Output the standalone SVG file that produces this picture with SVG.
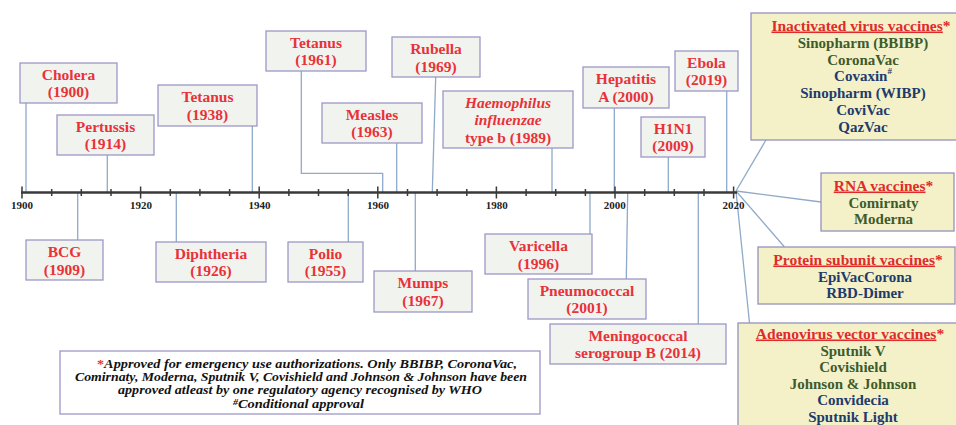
<svg xmlns="http://www.w3.org/2000/svg" width="956" height="425" viewBox="0 0 956 425">
<style>
.bx{fill:#f1f4ee;stroke:#9d97c6;stroke-width:1.3}
.yb{fill:#f4f1c9;stroke:#9492bc;stroke-width:1.3}
.t{font-family:"Liberation Serif",serif;font-weight:bold;font-size:15.5px;fill:#e8323a;text-anchor:middle}
.yr{font-family:"Liberation Serif",serif;font-weight:bold;font-size:11px;fill:#222;text-anchor:middle}
.h{font-family:"Liberation Serif",serif;font-weight:bold;font-size:15.5px;fill:#e02b2b;text-anchor:middle}
.g{font-family:"Liberation Serif",serif;font-weight:bold;font-size:15px;fill:#3e5b2c;text-anchor:middle}
.b{font-family:"Liberation Serif",serif;font-weight:bold;font-size:15px;fill:#1e3b6b;text-anchor:middle}
.n{font-family:"Liberation Serif",serif;font-weight:bold;font-style:italic;font-size:11.5px;fill:#111}
.c{fill:none;stroke:#8fa9c9;stroke-width:1.3}
.ax{stroke:#3a3a3a;stroke-width:2.5}
.tk{stroke:#3a3a3a;stroke-width:1.5}
</style>
<rect width="956" height="425" fill="#fff"/>
<g id="connectors">
<path class="c" d="M26 103V192"/>
<path class="c" d="M107.3 155V192"/>
<path class="c" d="M252.3 126V192"/>
<path class="c" d="M301.3 71V173.3H382.7V192"/>
<path class="c" d="M396.7 143V192"/>
<path class="c" d="M435.7 77L432.3 192"/>
<path class="c" d="M552 148V192"/>
<path class="c" d="M614.3 108V192"/>
<path class="c" d="M668.3 157V192"/>
<path class="c" d="M726.7 91V192"/>
<path class="c" d="M77.7 192V240"/>
<path class="c" d="M176.3 192V242"/>
<path class="c" d="M348.3 192V242"/>
<path class="c" d="M415.3 192V271"/>
<path class="c" d="M590 192V234"/>
<path class="c" d="M627.7 192L626.3 279"/>
<path class="c" d="M698.3 192V324"/>
<path class="c" d="M736 191L766 140"/>
<path class="c" d="M736 191L821 202"/>
<path class="c" d="M736 191L784.3 246.7"/>
<path class="c" d="M736 191L749.5 323"/>
</g>
<g id="axis">
<line class="ax" x1="21" y1="192.5" x2="737" y2="192.5"/>
<path class="tk" d="M22 186.5v12M140.6 186.5v12M259.2 186.5v12M377.8 186.5v12M496.4 186.5v12M615 186.5v12M733.6 186.5v12"/>
<path class="tk" d="M51.7 189v7M81.3 189v7M111 189v7M170.3 189v7M199.9 189v7M229.6 189v7M288.9 189v7M318.5 189v7M348.2 189v7M407.5 189v7M437.1 189v7M466.8 189v7M526.1 189v7M555.7 189v7M585.4 189v7M644.7 189v7M674.3 189v7M704 189v7"/>
<text class="yr" x="22" y="209">1900</text>
<text class="yr" x="141" y="209">1920</text>
<text class="yr" x="259.5" y="209">1940</text>
<text class="yr" x="378" y="209">1960</text>
<text class="yr" x="496.7" y="209">1980</text>
<text class="yr" x="614.7" y="209">2000</text>
<text class="yr" x="733.6" y="209">2020</text>
</g>
<g id="cholera"><rect class="bx" x="20" y="63" width="97" height="40"/><text class="t" x="68.5" y="79.5">Cholera</text><text class="t" x="68.5" y="97">(1900)</text></g>
<g id="pertussis"><rect class="bx" x="57" y="115" width="97" height="40"/><text class="t" x="105.5" y="131.5">Pertussis</text><text class="t" x="105.5" y="149">(1914)</text></g>
<g id="tetanus1938"><rect class="bx" x="158" y="85" width="99" height="41"/><text class="t" x="207.5" y="102">Tetanus</text><text class="t" x="207.5" y="119.5">(1938)</text></g>
<g id="tetanus1961"><rect class="bx" x="266" y="31" width="100" height="40"/><text class="t" x="316" y="47.5">Tetanus</text><text class="t" x="316" y="65">(1961)</text></g>
<g id="measles"><rect class="bx" x="322" y="103" width="100" height="40"/><text class="t" x="372" y="119.5">Measles</text><text class="t" x="372" y="137">(1963)</text></g>
<g id="rubella"><rect class="bx" x="392" y="37" width="88" height="40"/><text class="t" x="436" y="54">Rubella</text><text class="t" x="436" y="71.5">(1969)</text></g>
<g id="hib"><rect class="bx" x="443" y="91" width="130" height="57"/><text class="t" x="508" y="107.5" font-style="italic">Haemophilus</text><text class="t" x="508" y="125" font-style="italic">influenzae</text><text class="t" x="508" y="142.5">type b (1989)</text></g>
<g id="hepatitisA"><rect class="bx" x="583" y="67" width="86" height="41"/><text class="t" x="626" y="84">Hepatitis</text><text class="t" x="626" y="101.5">A (2000)</text></g>
<g id="h1n1"><rect class="bx" x="641" y="117" width="64" height="40"/><text class="t" x="673" y="133.5">H1N1</text><text class="t" x="673" y="151">(2009)</text></g>
<g id="ebola"><rect class="bx" x="675" y="51" width="63" height="40"/><text class="t" x="706.5" y="67.5">Ebola</text><text class="t" x="706.5" y="85">(2019)</text></g>
<g id="bcg"><rect class="bx" x="26" y="240" width="77" height="40"/><text class="t" x="64.5" y="257">BCG</text><text class="t" x="64.5" y="274.5">(1909)</text></g>
<g id="diphtheria"><rect class="bx" x="156" y="242" width="110" height="40"/><text class="t" x="211" y="258.5">Diphtheria</text><text class="t" x="211" y="276">(1926)</text></g>
<g id="polio"><rect class="bx" x="288" y="242" width="75" height="40"/><text class="t" x="325.5" y="258.5">Polio</text><text class="t" x="325.5" y="276">(1955)</text></g>
<g id="mumps"><rect class="bx" x="374" y="271" width="98" height="41"/><text class="t" x="423" y="288">Mumps</text><text class="t" x="423" y="305.5">(1967)</text></g>
<g id="varicella"><rect class="bx" x="485" y="234" width="107" height="40"/><text class="t" x="538.5" y="251">Varicella</text><text class="t" x="538.5" y="268.5">(1996)</text></g>
<g id="pneumococcal"><rect class="bx" x="528" y="279" width="118" height="40"/><text class="t" x="587" y="295.5">Pneumococcal</text><text class="t" x="587" y="313">(2001)</text></g>
<g id="meningococcal"><rect class="bx" x="550" y="324" width="176" height="40"/><text class="t" x="638" y="340.5">Meningococcal</text><text class="t" x="638" y="358">serogroup B (2014)</text></g>
<g id="inactivated"><rect class="yb" x="751" y="13" width="215" height="127"/>
<text class="h" x="861" y="30.5"><tspan text-decoration="underline">Inactivated virus vaccines</tspan>*</text>
<text class="g" x="863" y="47.8">Sinopharm (BBIBP)</text>
<text class="g" x="863" y="64.6">CoronaVac</text>
<text class="b" x="863" y="81.4">Covaxin<tspan font-size="9" dy="-7">#</tspan></text>
<text class="b" x="863" y="98.2">Sinopharm (WIBP)</text>
<text class="b" x="863" y="115">CoviVac</text>
<text class="b" x="863" y="131.8">QazVac</text>
</g>
<g id="rna"><rect class="yb" x="821" y="173" width="133" height="58"/>
<text class="h" x="883.5" y="190.5"><tspan text-decoration="underline">RNA vaccines</tspan>*</text>
<text class="g" x="883.5" y="207.5">Comirnaty</text>
<text class="g" x="883.5" y="224.3">Moderna</text>
</g>
<g id="protein"><rect class="yb" x="758" y="247" width="197" height="57"/>
<text class="h" x="858" y="264.5"><tspan text-decoration="underline">Protein subunit vaccines</tspan>*</text>
<text class="b" x="865" y="281.5">EpiVacCorona</text>
<text class="b" x="865" y="298.3">RBD-Dimer</text>
</g>
<g id="adenovirus"><rect class="yb" x="738" y="323" width="230" height="110"/>
<text class="h" x="850" y="338.5"><tspan text-decoration="underline">Adenovirus vector vaccines</tspan>*</text>
<text class="g" x="853" y="355.5">Sputnik V</text>
<text class="g" x="853" y="372.1">Covishield</text>
<text class="g" x="853" y="388.7">Johnson &amp; Johnson</text>
<text class="b" x="853" y="405.3">Convidecia</text>
<text class="b" x="853" y="421.6">Sputnik Light</text>
</g>
<g id="note"><rect x="60" y="351" width="480" height="63" fill="#fff" stroke="#9d97c6" stroke-width="1.3"/>
<text class="n" x="97" y="368" textLength="420" lengthAdjust="spacingAndGlyphs"><tspan fill="#e8323a" font-style="normal">*</tspan>Approved for emergency use authorizations. Only BBIBP, CoronaVac,</text>
<text class="n" x="75" y="381.2" textLength="452" lengthAdjust="spacingAndGlyphs">Comirnaty, Moderna, Sputnik V, Covishield and Johnson &amp; Johnson have been</text>
<text class="n" x="118" y="394.4" textLength="364" lengthAdjust="spacingAndGlyphs">approved atleast by one regulatory agency recognised by WHO</text>
<text class="n" x="233" y="407.6" textLength="131" lengthAdjust="spacingAndGlyphs"><tspan font-size="8" dy="-3">#</tspan><tspan dy="3">Conditional approval</tspan></text>
</g>
</svg>
